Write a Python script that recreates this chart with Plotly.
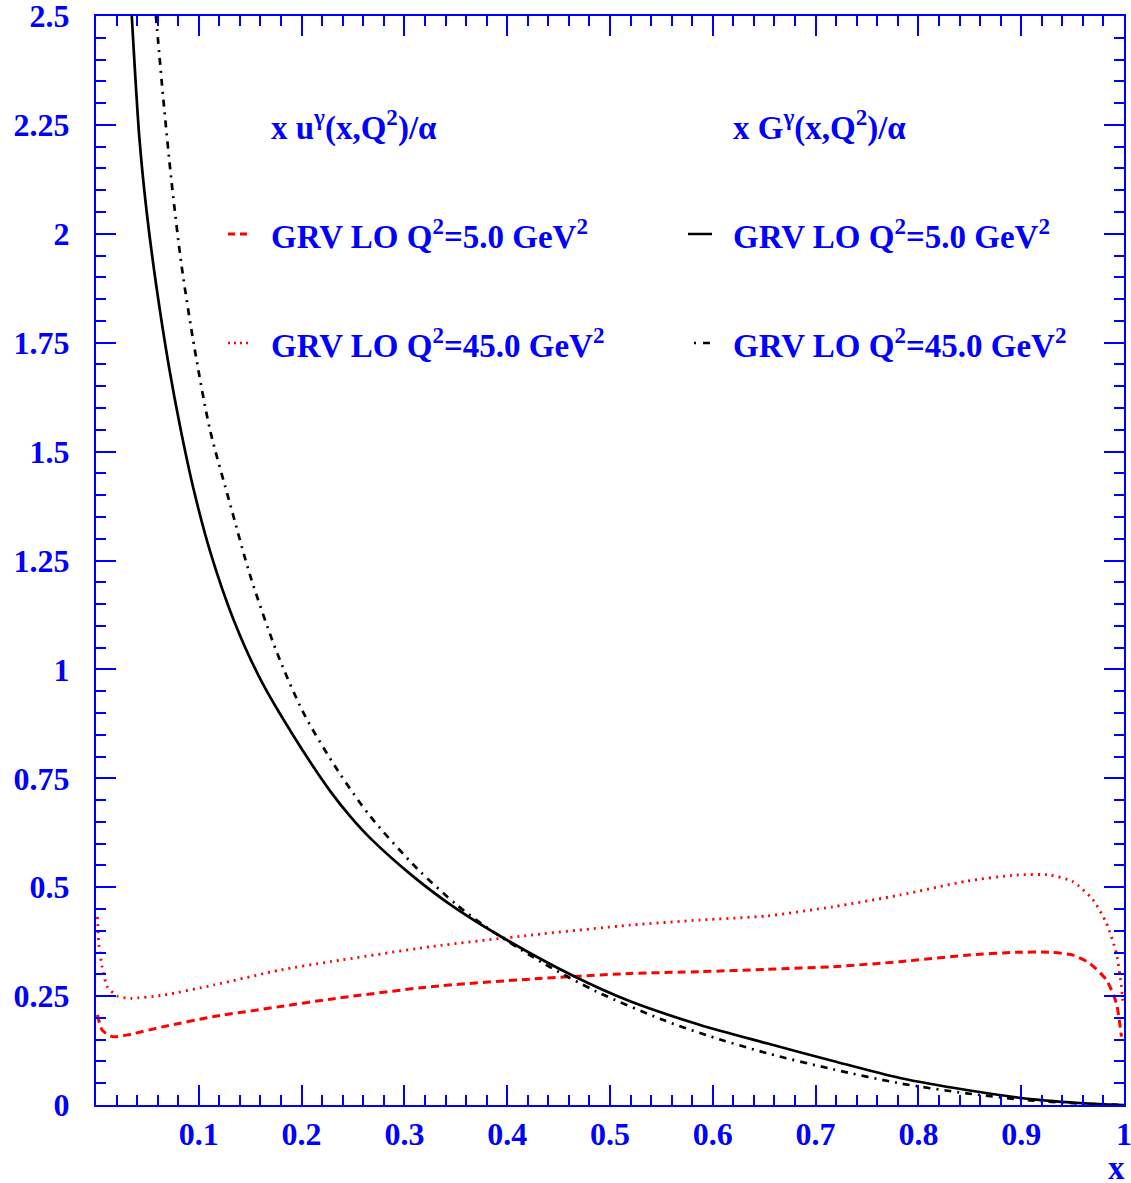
import numpy as np
import plotly.graph_objects as go

# ---- data ----
x_G5 = [0.0348, 0.0422, 0.0493, 0.059, 0.0713, 0.0816, 0.0953, 0.1115, 0.134, 0.160, 0.1925,
        0.228, 0.2475, 0.267, 0.3058, 0.3447, 0.393, 0.4645, 0.5196, 0.5877, 0.6525,
        0.717, 0.782, 0.847, 0.9116, 0.976, 1.0]
y_G5 = [2.5, 2.22, 2.05, 1.875, 1.69, 1.56, 1.41, 1.267, 1.113, 0.977, 0.846,
        0.72, 0.662, 0.612, 0.53, 0.460, 0.388, 0.296, 0.238, 0.1837, 0.1416,
        0.101, 0.062, 0.0344, 0.013, 0.002, 0.0]

x_G45 = [0.0583, 0.0655, 0.0736, 0.0833, 0.096, 0.1108, 0.131, 0.1503, 0.1763, 0.2021, 0.2346,
         0.267, 0.3123, 0.3512, 0.3836, 0.4354, 0.4873, 0.552, 0.5942, 0.6525, 0.717, 0.782,
         0.847, 0.9116, 0.97, 1.0]
y_G45 = [2.5, 2.309, 2.117, 1.926, 1.735, 1.551, 1.375, 1.213, 1.037, 0.899, 0.770,
         0.662, 0.543, 0.459, 0.402, 0.325, 0.260, 0.195, 0.160, 0.119, 0.082, 0.0498,
         0.0268, 0.010, 0.002, 0.0]

x_u5 = [0.0014, 0.006, 0.016, 0.0305, 0.066, 0.1147, 0.1795, 0.228, 0.3253, 0.4224, 0.5196,
        0.5877, 0.6525, 0.717, 0.782, 0.847, 0.8955, 0.928, 0.9505, 0.9667, 0.983, 0.9926, 0.9975]
y_u5 = [0.207, 0.172, 0.157, 0.161, 0.180, 0.203, 0.226, 0.243, 0.2716, 0.289, 0.302,
        0.306, 0.3115, 0.3175, 0.329, 0.344, 0.3505, 0.3505, 0.344, 0.325, 0.287, 0.2335, 0.157]

x_u45 = [0.0014, 0.003, 0.006, 0.011, 0.0208, 0.0337, 0.066, 0.1147, 0.1795, 0.228, 0.3253,
         0.4224, 0.5196, 0.5877, 0.6525, 0.717, 0.782, 0.847, 0.8955, 0.928, 0.9505, 0.970,
         0.983, 0.9926, 0.9975, 0.999]
y_u45 = [0.432, 0.363, 0.317, 0.2716, 0.250, 0.245, 0.2525, 0.2755, 0.31, 0.329, 0.3634,
         0.390, 0.413, 0.4247, 0.434, 0.455, 0.482, 0.514, 0.528, 0.528, 0.5126, 0.4706,
         0.417, 0.348, 0.2716, 0.234]

x_tickvals = [0.1, 0.2, 0.3, 0.4, 0.5, 0.6, 0.7, 0.8, 0.9, 1.0]
x_ticktext = ["0.1", "0.2", "0.3", "0.4", "0.5", "0.6", "0.7", "0.8", "0.9", "1"]
y_tickvals = [0, 0.25, 0.5, 0.75, 1, 1.25, 1.5, 1.75, 2, 2.25, 2.5]
y_ticktext = ["0", "0.25", "0.5", "0.75", "1", "1.25", "1.5", "1.75", "2", "2.25", "2.5"]

header_u = "x u<sup>γ</sup>(x,Q<sup>2</sup>)/α"
header_G = "x G<sup>γ</sup>(x,Q<sup>2</sup>)/α"
label_5 = "GRV LO Q<sup>2</sup>=5.0 GeV<sup>2</sup>"
label_45 = "GRV LO Q<sup>2</sup>=45.0 GeV<sup>2</sup>"

BLUE = "#0000FF"
RED = "#FF0000"
FONT = "Liberation Serif"

fig = go.Figure()
fig.add_trace(go.Scatter(x=x_u5, y=y_u5, mode="lines", name=label_5,
                         line=dict(color=RED, width=3, dash="8px,5px", shape="spline", smoothing=0.6)))
fig.add_trace(go.Scatter(x=x_u45, y=y_u45, mode="lines", name=label_45,
                         line=dict(color=RED, width=2.8, dash="2px,5px", shape="spline", smoothing=0.6)))
fig.add_trace(go.Scatter(x=x_G5, y=y_G5, mode="lines", name=label_5,
                         line=dict(color="black", width=2.7, shape="spline", smoothing=0.8)))
fig.add_trace(go.Scatter(x=x_G45, y=y_G45, mode="lines", name=label_45,
                         line=dict(color="black", width=2.7, dash="7px,6px,2px,6px", shape="spline", smoothing=0.8)))

axis_common = dict(
    showgrid=False, zeroline=False, showline=True, linecolor=BLUE, linewidth=2,
    mirror="allticks", ticks="inside", tickcolor=BLUE, tickwidth=2, ticklen=20,
    tickfont=dict(family=FONT, size=32, color=BLUE, weight="bold"),
    tickmode="array", automargin=False, ticklabeloverflow="allow",
)

fig.update_xaxes(range=[0, 1], tickvals=x_tickvals, ticktext=x_ticktext,
                 minor=dict(tickmode="linear", tick0=0, dtick=0.02, ticks="inside",
                            ticklen=10, tickwidth=1.5, tickcolor=BLUE),
                 ticklabelstandoff=0, **axis_common)
fig.update_yaxes(range=[0, 2.5], tickvals=y_tickvals, ticktext=y_ticktext,
                 minor=dict(tickmode="linear", tick0=0, dtick=0.05, ticks="inside",
                            ticklen=10, tickwidth=1.5, tickcolor=BLUE),
                 ticklabelstandoff=18, **axis_common)

W, H = 1131, 1183
ML, MR, MT, MB = 96, 7, 16, 78
PW, PH = W - ML - MR, H - MT - MB


def px(x):
    return (x - ML) / PW


def py(y):
    return (H - MB - y) / PH


tfont = dict(family=FONT, size=33, color=BLUE, weight="bold")
annots = [
    (269, 126, header_u), (731, 126, header_G),
    (269, 234, label_5), (731, 234, label_5),
    (269, 343, label_45), (731, 343, label_45),
]
for ax_, ay_, t in annots:
    fig.add_annotation(x=px(ax_), y=py(ay_), xref="paper", yref="paper", text=t,
                       showarrow=False, xanchor="left", yanchor="middle", font=tfont)

fig.add_annotation(x=px(1116), y=py(1168), xref="paper", yref="paper", text="x",
                   showarrow=False, xanchor="center", yanchor="middle", font=tfont)

# legend sample lines
samples = [
    (228, 250, 234, RED, 3, "7px,5px"),
    (228, 250, 343, RED, 2.5, "2px,4px"),
    (688, 712, 234, "black", 2.5, "solid"),
    (694, 712, 343, "black", 2.5, "2px,7px,7px,4px"),
]
for x0, x1, yy, c, w, d in samples:
    fig.add_shape(type="line", xref="paper", yref="paper", x0=px(x0), x1=px(x1),
                  y0=py(yy), y1=py(yy), line=dict(color=c, width=w, dash=d))

fig.update_layout(width=W, height=H, margin=dict(l=ML, r=MR, t=MT, b=MB, autoexpand=False),
                  plot_bgcolor="white", paper_bgcolor="white", showlegend=False)

fig.write_html("out.html")
